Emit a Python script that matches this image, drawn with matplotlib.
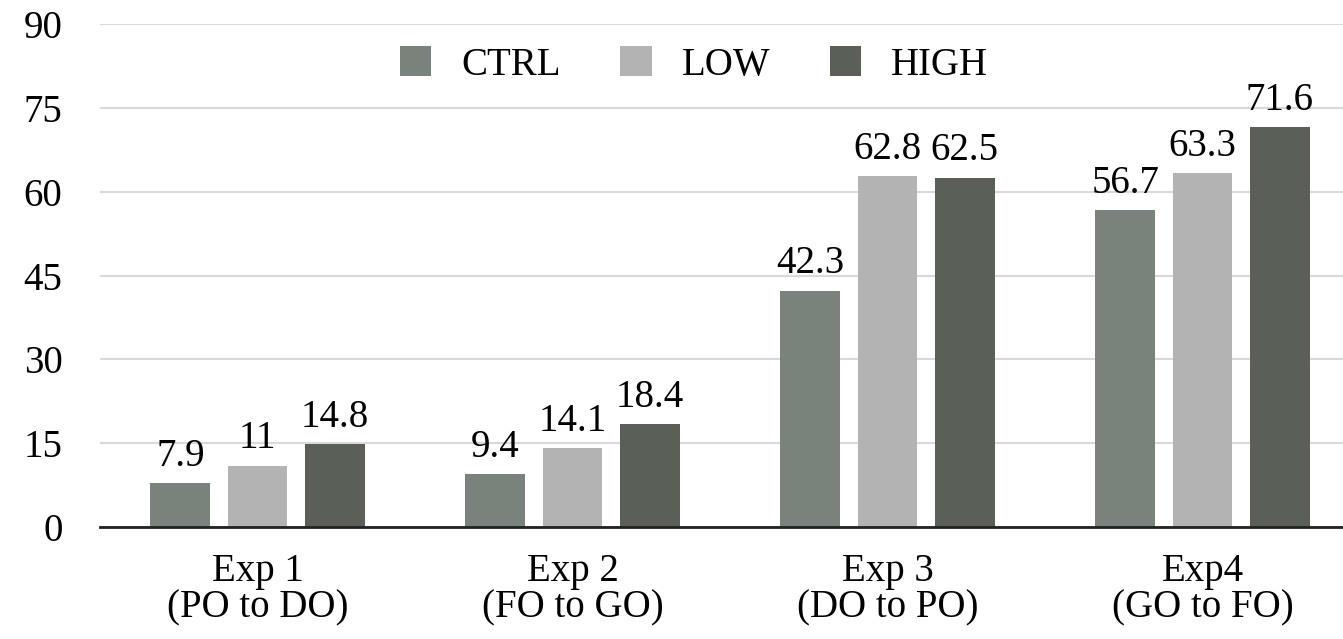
import matplotlib.pyplot as plt
import numpy as np

# data
groups = ["Exp 1\n(PO to DO)", "Exp 2\n(FO to GO)", "Exp 3\n(DO to PO)", "Exp4\n(GO to FO)"]
series = ["CTRL", "LOW", "HIGH"]
ctrl = [7.9, 9.4, 42.3, 56.7]
low = [11, 14.1, 62.8, 63.3]
high = [14.8, 18.4, 62.5, 71.6]
colors = ["#7a827c", "#b3b3b3", "#5a5f58"]

plt.rcParams['font.family'] = ['Liberation Serif', 'DejaVu Serif']
fs = 28

fig = plt.figure(figsize=(13.43, 6.39), dpi=100)
ax = fig.add_axes([100 / 1343, 112 / 639, 1 - 100 / 1343, 503 / 639])

x = np.arange(len(groups))
offset = 0.245
width = 0.19
for i, (name, vals) in enumerate(zip(series, [ctrl, low, high])):
    bars = ax.bar(x + (i - 1) * offset, vals, width, color=colors[i], label=name, zorder=3)
    ax.bar_label(bars, labels=[f"{v:g}" for v in vals], padding=6, fontsize=fs)

ax.set_xlim(-0.5, -0.5 + 1243 / 315)
ax.set_ylim(0, 90)
ax.set_yticks(np.arange(0, 91, 15))
ax.set_xticks(x)
ax.set_xticklabels(groups, linespacing=0.95)
ax.tick_params(axis='y', length=0, pad=27, labelsize=fs)
ax.tick_params(axis='x', length=0, pad=19, labelsize=fs)
ax.yaxis.grid(True, color="#d9d9d9", linewidth=1.5, zorder=0)
ax.set_axisbelow(True)
for s in ["top", "right", "left"]:
    ax.spines[s].set_visible(False)
ax.spines["bottom"].set_linewidth(2)
ax.spines["bottom"].set_color("#222222")
ax.spines["bottom"].set_zorder(4)

fig.legend(loc="center", bbox_to_anchor=(694 / 1343, 1 - 65 / 639), ncol=3,
           frameon=False, fontsize=fs, handlelength=0.8, handleheight=0.8,
           handletextpad=0.77, columnspacing=1.54)

fig.savefig("out.png", dpi=100)
